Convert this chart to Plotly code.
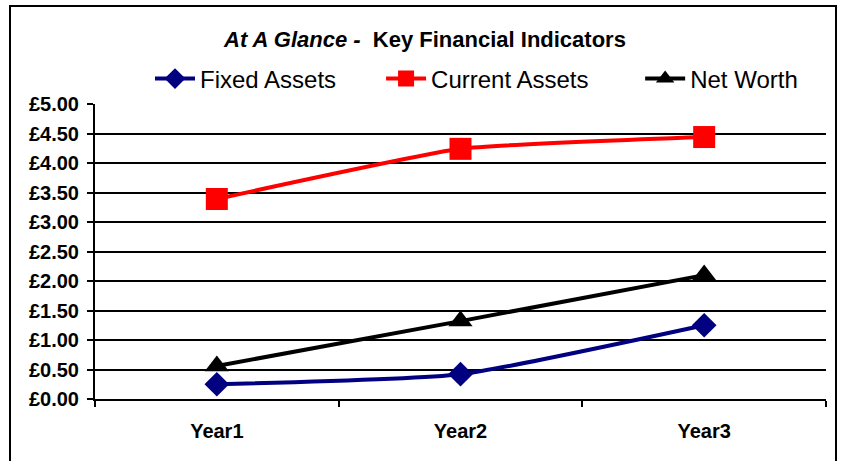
import plotly.graph_objects as go

categories = ["Year1", "Year2", "Year3"]
fixed_assets = [0.25, 0.42, 1.25]
current_assets = [3.39, 4.24, 4.44]
net_worth = [0.56, 1.32, 2.10]
y_ticks = [0, 0.5, 1, 1.5, 2, 2.5, 3, 3.5, 4, 4.5, 5]
y_tick_labels = ["£%.2f" % v for v in y_ticks]
series_names = ["Fixed Assets", "Current Assets", "Net Worth"]

W, H = 842, 461
L, R, T, B = 95, 16, 104, 62
pw, ph = W - L - R, H - T - B

NB = "\u00a0"
pad = [NB * 6, NB * 7, ""]

fig = go.Figure()
fig.add_trace(go.Scatter(x=categories, y=fixed_assets, name=series_names[0] + pad[0],
                         mode="lines+markers", line=dict(color="#000080", width=4, shape="spline", smoothing=0.5),
                         marker=dict(symbol="diamond", size=19, color="#000080")))
fig.add_trace(go.Scatter(x=categories, y=current_assets, name=series_names[1] + pad[1],
                         mode="lines+markers", line=dict(color="#FF0000", width=4, shape="spline", smoothing=0.4),
                         marker=dict(symbol="square", size=22, color="#FF0000")))
fig.add_trace(go.Scatter(x=categories, y=net_worth, name=series_names[2] + pad[2],
                         mode="lines+markers", line=dict(color="#000000", width=4, shape="spline", smoothing=0.4),
                         marker=dict(symbol="triangle-up", size=21, color="#000000")))

def px_x(x):
    return (x - L) / pw

def px_y(y):
    return (H - B - y) / ph

fig.add_shape(type="rect", xref="paper", yref="paper",
              x0=px_x(10), x1=px_x(836), y0=px_y(480), y1=px_y(6),
              line=dict(color="black", width=2), fillcolor="rgba(0,0,0,0)", layer="below")

fig.update_layout(
    width=W, height=H,
    margin=dict(l=L, r=R, t=T, b=B),
    paper_bgcolor="white", plot_bgcolor="white",
    font=dict(family="Liberation Sans, Arial, sans-serif", color="black"),
    title=dict(text="<b><i>At A Glance - </i> Key Financial Indicators</b>",
               x=px_x(425), xanchor="center", xref="paper",
               y=1 - 39 / H, yanchor="middle", yref="container",
               font=dict(size=22, family="Liberation Sans, Arial, sans-serif")),
    legend=dict(orientation="h", x=px_x(150), xanchor="left", y=px_y(79), yanchor="middle",
                font=dict(size=24), itemwidth=40,
                tracegroupgap=0, bgcolor="rgba(0,0,0,0)"),
    showlegend=True,
)
fig.update_xaxes(type="category", tickson="boundaries", ticks="outside", ticklen=6, tickwidth=2,
                 tickcolor="black", showline=True, linecolor="black", linewidth=2,
                 showgrid=False, tickfont=dict(size=20, weight="bold"), range=[-0.5, 2.5],
                 ticklabelstandoff=13)
fig.update_yaxes(range=[0, 5], tickvals=y_ticks, ticktext=y_tick_labels,
                 ticks="outside", ticklen=6, tickwidth=2, tickcolor="black",
                 showline=True, linecolor="black", linewidth=2,
                 showgrid=True, gridcolor="black", gridwidth=2, zeroline=False,
                 tickfont=dict(size=20, weight="bold"), ticklabelstandoff=4)

fig.write_html("out.html", config={"displayModeBar": False},
               post_script="document.body.style.margin='0';")
